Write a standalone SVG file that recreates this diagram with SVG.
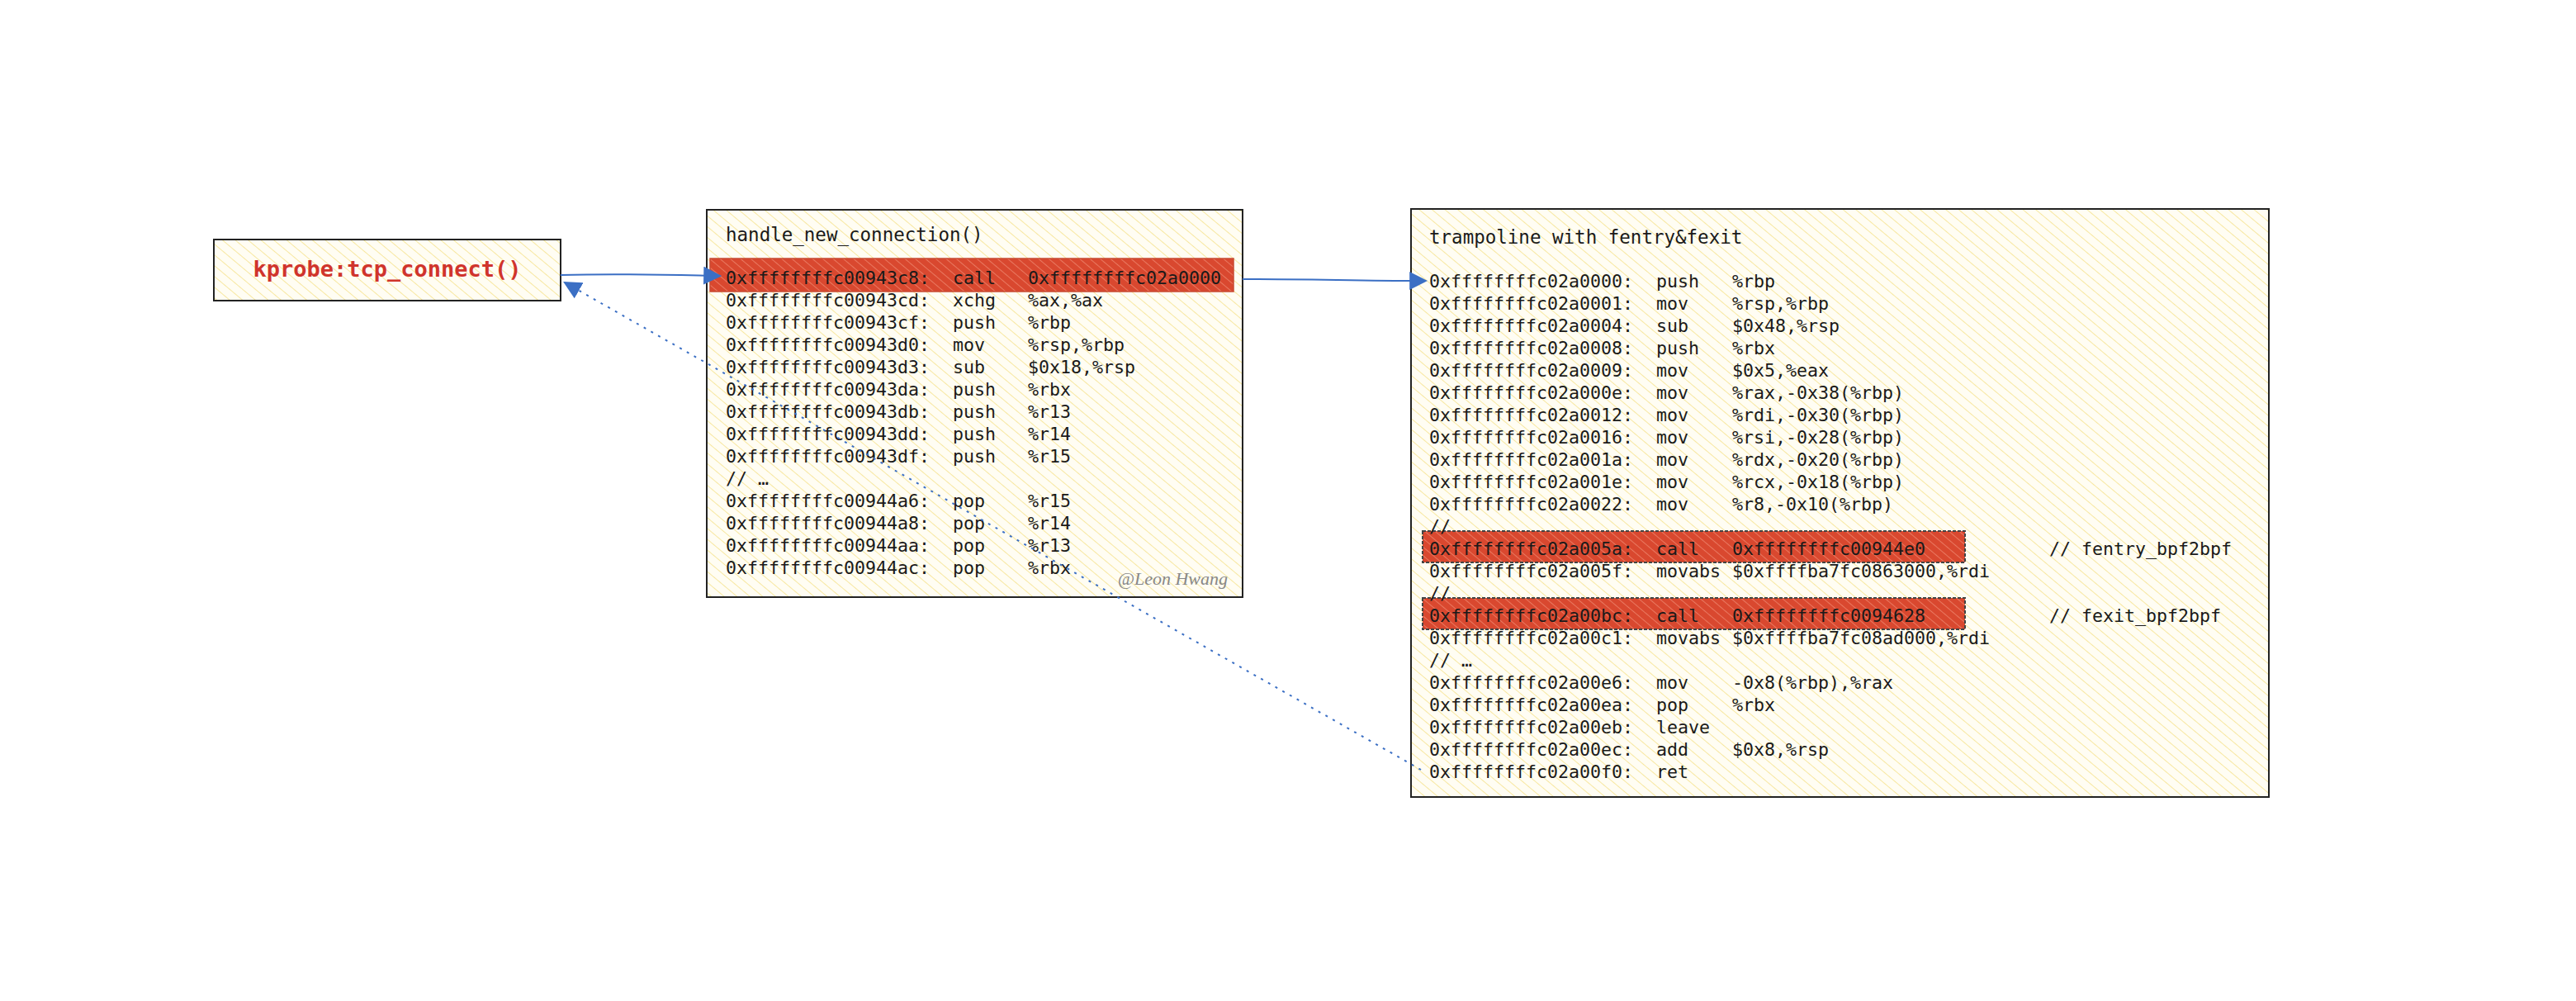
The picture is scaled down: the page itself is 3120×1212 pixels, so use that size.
<svg xmlns="http://www.w3.org/2000/svg" width="3120" height="1212" viewBox="0 0 3120 1212">
<defs>
<pattern id="hy" width="10" height="10" patternUnits="userSpaceOnUse" patternTransform="rotate(-50)">
<rect width="10" height="10" fill="#fffdf3"/><line x1="0" y1="0" x2="0" y2="10" stroke="#f7e7a0" stroke-width="2"/>
</pattern>
<pattern id="hr" width="8" height="8" patternUnits="userSpaceOnUse" patternTransform="rotate(-50)">
<rect width="8" height="8" fill="#d9482f"/><line x1="0" y1="0" x2="0" y2="8" stroke="#ef8a72" stroke-width="1.5"/>
</pattern>
<marker id="ah2" viewBox="0 0 10 10" refX="9" refY="5" markerWidth="22" markerHeight="22" markerUnits="userSpaceOnUse" orient="auto"><path d="M0,0L10,5L0,10z" fill="#3b6fc4"/></marker>
</defs>
<style>
.box{fill:url(#hy);stroke:#222;stroke-width:2}
.hl{fill:url(#hr);stroke:#c84a33;stroke-width:1.5}
.hl2{fill:url(#hr);stroke:#444;stroke-width:2;stroke-dasharray:4 2}
text{font-family:"DejaVu Sans Mono","Liberation Mono",monospace;font-size:21.6px;fill:#1a1a1a}
.t{font-size:22.5px}
.k{font-size:27px;font-weight:bold;fill:#d0342c}
.w{font-family:"Liberation Serif",serif;font-style:italic;font-size:22px;fill:#888}
.c{fill:none;stroke:#3b6fc4;stroke-width:2}
</style>
<rect width="3120" height="1212" fill="#fff"/>
<g id="kprobe">
<rect x="259" y="290" width="420" height="74" class="box"/>
<text x="469" y="335" text-anchor="middle" class="k">kprobe:tcp_connect()</text>
</g>
<g id="handle">
<rect x="856" y="254" width="649" height="469" class="box"/>
<rect x="860" y="313" width="634" height="40" class="hl"/>
<text x="879" y="292" class="t">handle_new_connection()</text>
<g>
<text x="879" y="344">0xffffffffc00943c8:</text><text x="1154" y="344">call</text><text x="1245" y="344">0xffffffffc02a0000</text>
<text x="879" y="371">0xffffffffc00943cd:</text><text x="1154" y="371">xchg</text><text x="1245" y="371">%ax,%ax</text>
<text x="879" y="398">0xffffffffc00943cf:</text><text x="1154" y="398">push</text><text x="1245" y="398">%rbp</text>
<text x="879" y="425">0xffffffffc00943d0:</text><text x="1154" y="425">mov</text><text x="1245" y="425">%rsp,%rbp</text>
<text x="879" y="452">0xffffffffc00943d3:</text><text x="1154" y="452">sub</text><text x="1245" y="452">$0x18,%rsp</text>
<text x="879" y="479">0xffffffffc00943da:</text><text x="1154" y="479">push</text><text x="1245" y="479">%rbx</text>
<text x="879" y="506">0xffffffffc00943db:</text><text x="1154" y="506">push</text><text x="1245" y="506">%r13</text>
<text x="879" y="533">0xffffffffc00943dd:</text><text x="1154" y="533">push</text><text x="1245" y="533">%r14</text>
<text x="879" y="560">0xffffffffc00943df:</text><text x="1154" y="560">push</text><text x="1245" y="560">%r15</text>
<text x="879" y="587">// …</text>
<text x="879" y="614">0xffffffffc00944a6:</text><text x="1154" y="614">pop</text><text x="1245" y="614">%r15</text>
<text x="879" y="641">0xffffffffc00944a8:</text><text x="1154" y="641">pop</text><text x="1245" y="641">%r14</text>
<text x="879" y="668">0xffffffffc00944aa:</text><text x="1154" y="668">pop</text><text x="1245" y="668">%r13</text>
<text x="879" y="695">0xffffffffc00944ac:</text><text x="1154" y="695">pop</text><text x="1245" y="695">%rbx</text>
</g>
<text x="1487" y="708" text-anchor="end" class="w">@Leon Hwang</text>
</g>
<g id="trampoline">
<rect x="1709" y="253" width="1039" height="712" class="box"/>
<rect x="1723" y="643" width="657" height="38" class="hl2"/>
<rect x="1723" y="724" width="657" height="38" class="hl2"/>
<text x="1731" y="295" class="t">trampoline with fentry&amp;fexit</text>
<text x="1731" y="348">0xffffffffc02a0000:</text><text x="2006" y="348">push</text><text x="2098" y="348">%rbp</text>
<text x="1731" y="375">0xffffffffc02a0001:</text><text x="2006" y="375">mov</text><text x="2098" y="375">%rsp,%rbp</text>
<text x="1731" y="402">0xffffffffc02a0004:</text><text x="2006" y="402">sub</text><text x="2098" y="402">$0x48,%rsp</text>
<text x="1731" y="429">0xffffffffc02a0008:</text><text x="2006" y="429">push</text><text x="2098" y="429">%rbx</text>
<text x="1731" y="456">0xffffffffc02a0009:</text><text x="2006" y="456">mov</text><text x="2098" y="456">$0x5,%eax</text>
<text x="1731" y="483">0xffffffffc02a000e:</text><text x="2006" y="483">mov</text><text x="2098" y="483">%rax,-0x38(%rbp)</text>
<text x="1731" y="510">0xffffffffc02a0012:</text><text x="2006" y="510">mov</text><text x="2098" y="510">%rdi,-0x30(%rbp)</text>
<text x="1731" y="537">0xffffffffc02a0016:</text><text x="2006" y="537">mov</text><text x="2098" y="537">%rsi,-0x28(%rbp)</text>
<text x="1731" y="564">0xffffffffc02a001a:</text><text x="2006" y="564">mov</text><text x="2098" y="564">%rdx,-0x20(%rbp)</text>
<text x="1731" y="591">0xffffffffc02a001e:</text><text x="2006" y="591">mov</text><text x="2098" y="591">%rcx,-0x18(%rbp)</text>
<text x="1731" y="618">0xffffffffc02a0022:</text><text x="2006" y="618">mov</text><text x="2098" y="618">%r8,-0x10(%rbp)</text>
<text x="1731" y="645">//</text>
<text x="1731" y="672">0xffffffffc02a005a:</text><text x="2006" y="672">call</text><text x="2098" y="672">0xffffffffc00944e0</text><text x="2482" y="672">// fentry_bpf2bpf</text>
<text x="1731" y="699">0xffffffffc02a005f:</text><text x="2006" y="699">movabs</text><text x="2098" y="699">$0xffffba7fc0863000,%rdi</text>
<text x="1731" y="726">//</text>
<text x="1731" y="753">0xffffffffc02a00bc:</text><text x="2006" y="753">call</text><text x="2098" y="753">0xffffffffc0094628</text><text x="2482" y="753">// fexit_bpf2bpf</text>
<text x="1731" y="780">0xffffffffc02a00c1:</text><text x="2006" y="780">movabs</text><text x="2098" y="780">$0xffffba7fc08ad000,%rdi</text>
<text x="1731" y="807">//  …</text>
<text x="1731" y="834">0xffffffffc02a00e6:</text><text x="2006" y="834">mov</text><text x="2098" y="834">-0x8(%rbp),%rax</text>
<text x="1731" y="861">0xffffffffc02a00ea:</text><text x="2006" y="861">pop</text><text x="2098" y="861">%rbx</text>
<text x="1731" y="888">0xffffffffc02a00eb:</text><text x="2006" y="888">leave</text>
<text x="1731" y="915">0xffffffffc02a00ec:</text><text x="2006" y="915">add</text><text x="2098" y="915">$0x8,%rsp</text>
<text x="1731" y="942">0xffffffffc02a00f0:</text><text x="2006" y="942">ret</text>
</g>
<g id="connectors">
<path class="c" d="M679,333 C760,331 820,333 872,334" marker-end="url(#ah2)"/>
<path class="c" d="M1505,338 C1600,338 1660,340 1727,340" marker-end="url(#ah2)"/>
<path class="c" d="M1721,932 L684,342" stroke-dasharray="3 7" marker-end="url(#ah2)"/>
</g>
</svg>
